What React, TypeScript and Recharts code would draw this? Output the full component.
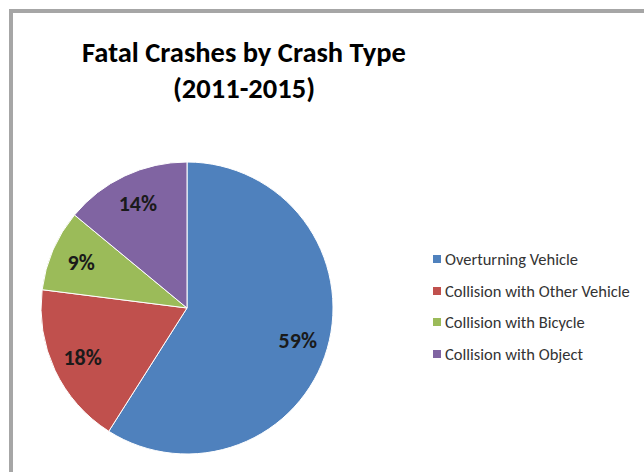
import { Legend, Pie, PieChart } from "recharts";

const categories = [
  "Overturning Vehicle",
  "Collision with Other Vehicle",
  "Collision with Bicycle",
  "Collision with Object",
];
const shares = [59, 18, 9, 14];
const colors = ["#4f81bd", "#c0504d", "#9bbb59", "#8064a2"];
const titleLines = ["Fatal Crashes by Crash Type", "(2011-2015)"];

const data = categories.map((name, i) => ({ name, value: shares[i], fill: colors[i] }));

const FONT = "Carlito, Calibri, Lato, sans-serif";
const RAD = Math.PI / 180;

const renderLabel = (props: any) => {
  const { cx, cy, midAngle, outerRadius, value } = props;
  const r = outerRadius * 0.79;
  const x = cx + r * Math.cos(-midAngle * RAD);
  const y = cy + r * Math.sin(-midAngle * RAD);
  return (
    <text
      x={x}
      y={y}
      textAnchor="middle"
      dominantBaseline="central"
      fontFamily={FONT}
      fontWeight="bold"
      fontSize={22}
      fill="#1a1a1a"
    >
      {`${value}%`}
    </text>
  );
};

const renderLegend = () => (
  <div style={{ fontFamily: FONT, fontSize: 16.5, color: "#333" }}>
    {data.map((d) => (
      <div
        key={d.name}
        style={{ display: "flex", alignItems: "center", height: 31.7, whiteSpace: "nowrap" }}
      >
        <span
          style={{ width: 8, height: 8, background: d.fill, marginRight: 4, display: "inline-block" }}
        />
        {d.name}
      </div>
    ))}
  </div>
);

export default function App() {
  return (
    <div
      style={{
        position: "absolute",
        left: 0,
        top: 0,
        width: 644,
        height: 472,
        overflow: "hidden",
        background: "#fff",
      }}
    >
      <div
        style={{
          position: "absolute",
          left: 9,
          top: 9,
          width: 700,
          height: 500,
          borderLeft: "4px solid #a6a6a6",
          borderTop: "4px solid #a6a6a6",
        }}
      />
      <div
        style={{
          position: "absolute",
          left: 44,
          top: 35,
          width: 400,
          textAlign: "center",
          fontFamily: FONT,
          fontWeight: "bold",
          fontSize: 28.5,
          lineHeight: "36px",
          color: "#000",
        }}
      >
        {titleLines.map((t) => (
          <div key={t}>{t}</div>
        ))}
      </div>
      <div style={{ position: "absolute", left: 0, top: 0 }}>
        <PieChart width={644} height={472} margin={{ top: 0, right: 0, bottom: 0, left: 0 }}>
          <Pie
            data={data}
            dataKey="value"
            nameKey="name"
            cx={187}
            cy={308}
            outerRadius={146}
            startAngle={90}
            endAngle={-270}
            stroke="#fff"
            strokeWidth={1}
            label={renderLabel}
            labelLine={false}
            isAnimationActive={false}
          />
          <Legend
            layout="vertical"
            content={renderLegend}
            wrapperStyle={{ position: "absolute", left: 433, top: 243, width: 210 }}
          />
        </PieChart>
      </div>
    </div>
  );
}
